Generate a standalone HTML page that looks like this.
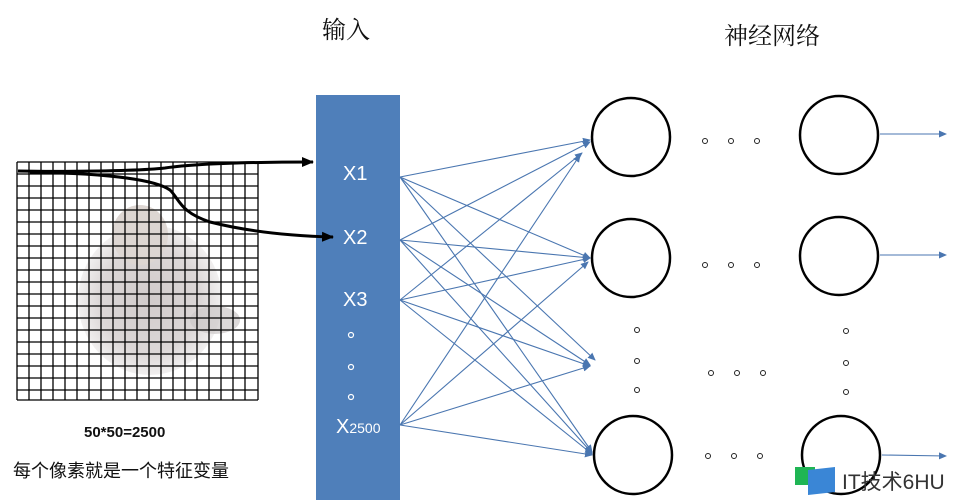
<!DOCTYPE html>
<html><head><meta charset="utf-8"><style>
body{margin:0;width:956px;height:500px;background:#fff;overflow:hidden;position:relative;font-family:"Liberation Sans","Noto Sans CJK SC",sans-serif}
</style></head><body>
<svg width="956" height="500" viewBox="0 0 956 500" style="position:absolute;left:0;top:0">
<defs>
<marker id="ab" markerWidth="8" markerHeight="8" refX="7" refY="4" orient="auto" markerUnits="userSpaceOnUse"><path d="M0,0.5 L8,4 L0,7.5z" fill="#4a76b0"/></marker>
<marker id="ak" markerWidth="12" markerHeight="10" refX="11" refY="5" orient="auto" markerUnits="userSpaceOnUse"><path d="M0,0 L12,5 L0,10z" fill="#000"/></marker>
<radialGradient id="cat" cx="0.5" cy="0.5" r="0.5"><stop offset="0" stop-color="#bdb5b5"/><stop offset="0.7" stop-color="#cdc6c6"/><stop offset="1" stop-color="#ebe9e9"/></radialGradient>
</defs>
<ellipse cx="150" cy="300" rx="72" ry="75" fill="url(#cat)" opacity="0.7"/>
<ellipse cx="140" cy="235" rx="28" ry="30" fill="#ddd6d2"/>
<ellipse cx="215" cy="320" rx="25" ry="14" fill="#ccc8c8" opacity="0.7"/>
<g stroke="#000" stroke-width="1.3">
<line x1="17" y1="162" x2="17" y2="400"/><line x1="29" y1="162" x2="29" y2="400"/><line x1="41" y1="162" x2="41" y2="400"/><line x1="53" y1="162" x2="53" y2="400"/><line x1="65" y1="162" x2="65" y2="400"/><line x1="77" y1="162" x2="77" y2="400"/><line x1="89" y1="162" x2="89" y2="400"/><line x1="101" y1="162" x2="101" y2="400"/><line x1="113" y1="162" x2="113" y2="400"/><line x1="125" y1="162" x2="125" y2="400"/><line x1="137" y1="162" x2="137" y2="400"/><line x1="149" y1="162" x2="149" y2="400"/><line x1="161" y1="162" x2="161" y2="400"/><line x1="173" y1="162" x2="173" y2="400"/><line x1="185" y1="162" x2="185" y2="400"/><line x1="197" y1="162" x2="197" y2="400"/><line x1="209" y1="162" x2="209" y2="400"/><line x1="221" y1="162" x2="221" y2="400"/><line x1="233" y1="162" x2="233" y2="400"/><line x1="245" y1="162" x2="245" y2="400"/><line x1="258" y1="162" x2="258" y2="400"/>
<line x1="17" y1="162" x2="258" y2="162"/><line x1="17" y1="174" x2="258" y2="174"/><line x1="17" y1="186" x2="258" y2="186"/><line x1="17" y1="198" x2="258" y2="198"/><line x1="17" y1="210" x2="258" y2="210"/><line x1="17" y1="222" x2="258" y2="222"/><line x1="17" y1="234" x2="258" y2="234"/><line x1="17" y1="246" x2="258" y2="246"/><line x1="17" y1="258" x2="258" y2="258"/><line x1="17" y1="270" x2="258" y2="270"/><line x1="17" y1="282" x2="258" y2="282"/><line x1="17" y1="294" x2="258" y2="294"/><line x1="17" y1="306" x2="258" y2="306"/><line x1="17" y1="318" x2="258" y2="318"/><line x1="17" y1="330" x2="258" y2="330"/><line x1="17" y1="342" x2="258" y2="342"/><line x1="17" y1="354" x2="258" y2="354"/><line x1="17" y1="366" x2="258" y2="366"/><line x1="17" y1="378" x2="258" y2="378"/><line x1="17" y1="390" x2="258" y2="390"/><line x1="17" y1="400" x2="258" y2="400"/>
</g>
<rect x="316" y="95" width="84" height="405" fill="#4f7fba"/>
<path d="M18,171 C60,172 140,171 165,168 C200,163 260,162 313,162" fill="none" stroke="#000" stroke-width="3" marker-end="url(#ak)"/>
<path d="M30,172 C80,173 150,176 170,190 C180,200 180,212 210,222 C250,232 290,236 333,237" fill="none" stroke="#000" stroke-width="3" marker-end="url(#ak)"/>
<g fill="#fff" font-size="20" font-family="Liberation Sans,sans-serif">
<text x="343" y="180">X1</text><text x="343" y="244">X2</text><text x="343" y="306">X3</text>
<text x="336" y="433">X<tspan font-size="14">2500</tspan></text>
</g>
<g fill="none" stroke="#fff" stroke-width="1.2"><circle cx="351" cy="335" r="2.5"/><circle cx="351" cy="367" r="2.5"/><circle cx="351" cy="397" r="2.5"/></g>
<g stroke="#4a76b0" stroke-width="1.1" marker-end="url(#ab)">
<line x1="400" y1="177" x2="590" y2="140"/><line x1="400" y1="177" x2="590" y2="258"/><line x1="400" y1="177" x2="595" y2="360"/><line x1="400" y1="177" x2="592" y2="452"/>
<line x1="400" y1="240" x2="590" y2="142"/><line x1="400" y1="240" x2="590" y2="258"/><line x1="400" y1="240" x2="590" y2="365"/><line x1="400" y1="240" x2="592" y2="453"/>
<line x1="400" y1="300" x2="582" y2="153"/><line x1="400" y1="300" x2="590" y2="258"/><line x1="400" y1="300" x2="590" y2="366"/><line x1="400" y1="300" x2="592" y2="454"/>
<line x1="400" y1="425" x2="580" y2="155"/><line x1="400" y1="425" x2="588" y2="262"/><line x1="400" y1="425" x2="590" y2="366"/><line x1="400" y1="425" x2="592" y2="455"/>
<line x1="880" y1="134" x2="946" y2="134"/><line x1="880" y1="255" x2="946" y2="255"/><line x1="882" y1="455" x2="946" y2="456"/>
</g>
<g fill="#fff" stroke="#000" stroke-width="2.5">
<circle cx="631" cy="137" r="39"/><circle cx="631" cy="258" r="39"/><circle cx="633" cy="455" r="39"/>
<circle cx="839" cy="135" r="39"/><circle cx="839" cy="256" r="39"/><circle cx="841" cy="455" r="39"/>
</g>
<g fill="none" stroke="#222" stroke-width="1">
<circle cx="705" cy="141" r="2.5"/><circle cx="731" cy="141" r="2.5"/><circle cx="757" cy="141" r="2.5"/>
<circle cx="705" cy="265" r="2.5"/><circle cx="731" cy="265" r="2.5"/><circle cx="757" cy="265" r="2.5"/>
<circle cx="637" cy="330" r="2.5"/><circle cx="637" cy="361" r="2.5"/><circle cx="637" cy="390" r="2.5"/>
<circle cx="711" cy="373" r="2.5"/><circle cx="737" cy="373" r="2.5"/><circle cx="763" cy="373" r="2.5"/>
<circle cx="846" cy="331" r="2.5"/><circle cx="846" cy="363" r="2.5"/><circle cx="846" cy="392" r="2.5"/>
<circle cx="708" cy="456" r="2.5"/><circle cx="734" cy="456" r="2.5"/><circle cx="760" cy="456" r="2.5"/>
</g>
<rect x="795" y="467" width="20" height="18" fill="#1fb554"/>
<path d="M808,470 L835,467 L835,492 L808,495z" fill="#3a86d6"/>
</svg>
<div style="position:absolute;left:322px;top:10px;font-size:24px;font-family:'Noto Serif CJK SC',serif;color:#111">输入</div>
<div style="position:absolute;left:724px;top:16px;font-size:24px;font-family:'Noto Serif CJK SC',serif;color:#111">神经网络</div>
<div style="position:absolute;left:84px;top:424px;font-size:15px;font-weight:bold;color:#111">50*50=2500</div>
<div style="position:absolute;left:13px;top:457px;font-size:18px;color:#111;font-family:'Noto Sans CJK SC',sans-serif">每个像素就是一个特征变量</div>
<div style="position:absolute;left:842px;top:466px;font-size:21px;color:#333;font-family:'Liberation Sans','Noto Sans CJK SC',sans-serif">IT技术6HU</div>
</body></html>
